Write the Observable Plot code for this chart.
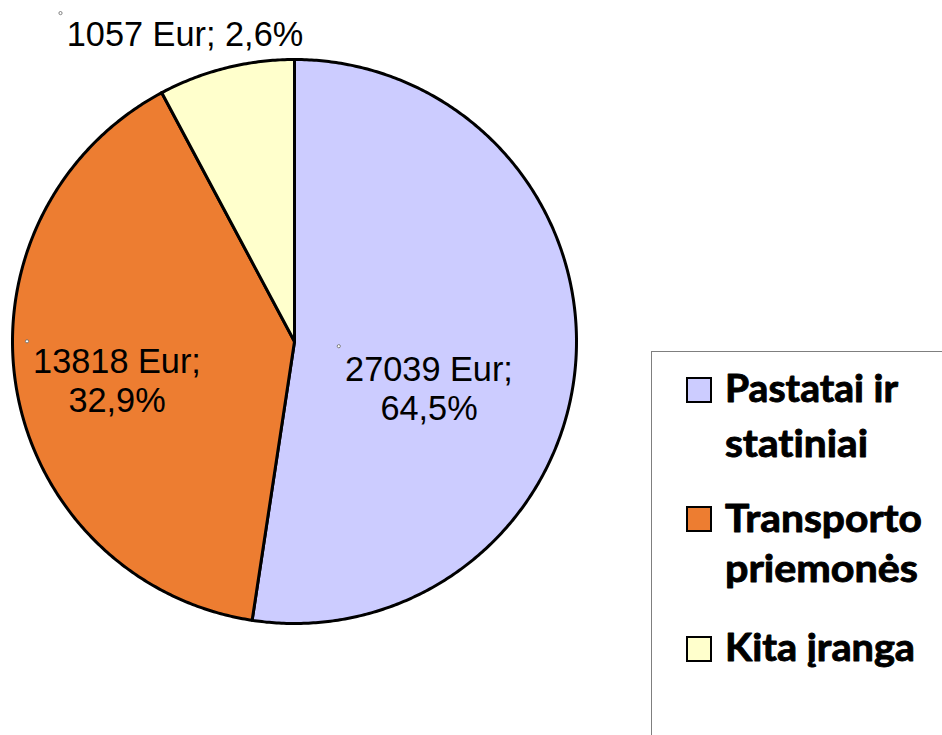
<!DOCTYPE html>
<html>
<head>
<meta charset="utf-8">
<script src="https://cdn.jsdelivr.net/npm/d3@7"></script>
<script src="https://cdn.jsdelivr.net/npm/@observablehq/plot@0.6"></script>
<style>
  html, body { margin: 0; padding: 0; background: #fff; overflow: hidden; }
  #wrap { position: relative; width: 942px; height: 735px; }
  #wrap > svg { position: absolute; left: 0; top: 0; }
  .legtext { font-variant-ligatures: none; font-feature-settings: "liga" 0, "clig" 0; }
</style>
</head>
<body>
<div id="wrap"></div>
<script>
// ---- data ----
const categories = ["Pastatai ir statiniai", "Transporto priemonės", "Kita įranga"];
const sliceShare = [52.4, 39.8, 7.8];          // share of the circle as drawn, %
const amountEur = [27039, 13818, 1057];
const percentText = ["64,5%", "32,9%", "2,6%"];
const legendLines = [["Pastatai ir", "statiniai"], ["Transporto", "priemonės"], ["Kita įranga"]];
const sliceColors = ["#CCCCFF", "#ED7D31", "#FFFFCC"];

// ---- layout (pixels) ----
const CX = 294, CY = 341, R = 282;
const toX = px => (px - CX) / R;
const toY = py => (CY - py) / R;

// slice outlines built from the shares
const total = d3.sum(sliceShare);
let acc = 0;
const slicePts = [];
sliceShare.forEach((v, i) => {
  const a0 = acc / total * 2 * Math.PI; acc += v;
  const a1 = acc / total * 2 * Math.PI;
  const n = Math.max(2, Math.ceil((a1 - a0) / (Math.PI / 360)));
  slicePts.push({i, x: 0, y: 0});
  for (let k = 0; k <= n; k++) {
    const a = a0 + (a1 - a0) * k / n;
    slicePts.push({i, x: Math.sin(a), y: Math.cos(a)});
  }
});

// data labels
const labelLayout = [
  {x: 428.5, ys: [380, 419.5], dot: [338.3, 345.7]},
  {x: 116.5, ys: [372.3, 411.7], dot: [26.5, 340.8]},
  {x: 184.5, ys: [45], dot: [60, 12.6]}
];
const labelRows = [];
const labelDots = [];
categories.forEach((c, i) => {
  const L = labelLayout[i];
  const lines = L.ys.length > 1
    ? [`${amountEur[i]} Eur;`, percentText[i]]
    : [`${amountEur[i]} Eur; ${percentText[i]}`];
  lines.forEach((t, k) => labelRows.push({x: toX(L.x), y: toY(L.ys[k]), text: t}));
  labelDots.push({x: toX(L.dot[0]), y: toY(L.dot[1])});
});

const chart = Plot.plot({
  width: 942,
  height: 735,
  margin: 0,
  x: {domain: [-1, 1], range: [CX - R, CX + R], axis: null},
  y: {domain: [-1, 1], range: [CY + R, CY - R], axis: null},
  style: {background: "white", overflow: "visible"},
  marks: [
    ...categories.map((c, i) => Plot.line(slicePts.filter(p => p.i === i), {
      x: "x", y: "y", curve: "linear-closed",
      fill: sliceColors[i], stroke: "black", strokeWidth: 3, strokeLinejoin: "round"
    })),
    Plot.dot(labelDots, {x: "x", y: "y", r: 1.6, stroke: "#666", strokeWidth: 0.8, fill: "white"}),
    Plot.text(labelRows, {
      x: "x", y: "y", text: "text",
      fontSize: 34.3, fontFamily: "Liberation Sans, Arial, sans-serif",
      textAnchor: "middle", lineAnchor: "bottom", fill: "black"
    })
  ]
});
document.getElementById("wrap").appendChild(chart);

// ---- legend ----
const legendLayout = [
  {sy: 390, lines: [{b: 402, w: 173}, {b: 456.5, w: 143}]},
  {sy: 519, lines: [{b: 531.5, w: 197}, {b: 582, w: 193}]},
  {sy: 649, lines: [{b: 661, w: 190}]}
];
const leg = d3.select("#wrap").append("svg")
  .attr("width", 942).attr("height", 735)
  .style("pointer-events", "none");
leg.append("rect")
  .attr("x", 651.5).attr("y", 351.5).attr("width", 400).attr("height", 500)
  .attr("fill", "white").attr("stroke", "#7f7f7f").attr("stroke-width", 1);
categories.forEach((c, i) => {
  const L = legendLayout[i];
  leg.append("rect")
    .attr("x", 687).attr("y", L.sy - 12).attr("width", 24).attr("height", 24)
    .attr("fill", sliceColors[i]).attr("stroke", "black").attr("stroke-width", 2);
  legendLines[i].forEach((t, k) => {
    leg.append("text")
      .attr("class", "legtext")
      .attr("x", 725).attr("y", L.lines[k].b)
      .attr("font-family", "Lato, 'Open Sans', sans-serif")
      .attr("font-weight", 700).attr("font-size", 38)
      .attr("textLength", L.lines[k].w).attr("lengthAdjust", "spacingAndGlyphs")
      .attr("fill", "black").attr("stroke", "black").attr("stroke-width", 0.9)
      .attr("stroke-linejoin", "round")
      .text(t);
  });
});
</script>
</body>
</html>
